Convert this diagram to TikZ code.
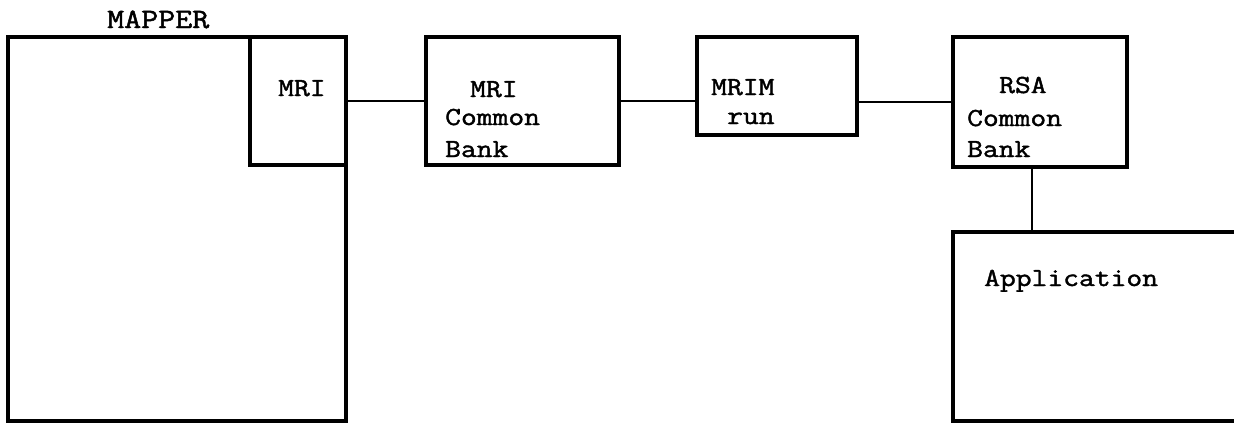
\documentclass[tikz,border=0pt]{standalone}
\usepackage{fontspec}
\newfontfamily\typefont{Latin Modern Mono}[FakeBold=1.6, FakeStretch=1.18]
\begin{document}
\begin{tikzpicture}[x=1pt,y=-1pt,
  box/.style={draw=black, line width=3.2pt, inner sep=0pt, outer sep=0pt, rectangle},
  conn/.style={draw=black, line width=2.8pt},
  lbl/.style={inner sep=0pt, anchor=base west, font=\typefont\fontsize{26}{30}\selectfont}]
\path[use as bounding box] (0,0) rectangle (1234,423);
\clip (0,0) rectangle (1234,423);
% boxes
\node[box, minimum width=338pt, minimum height=384pt] (mapper) at (177,229) {};
\node[box, minimum width=96pt, minimum height=128pt] (mri) at (298,101) {};
\node[box, minimum width=193pt, minimum height=128pt] (mricb) at (522.5,101) {};
\node[box, minimum width=160pt, minimum height=98pt] (mrim) at (777,86) {};
\node[box, minimum width=174pt, minimum height=130pt] (rsacb) at (1040,102) {};
\node[box, minimum width=320pt, minimum height=189pt] (app) at (1113,326.5) {};
% labels
\node[lbl, font=\typefont\fontsize{28}{34}\selectfont] (tmapper) at (107,28) {MAPPER};
\node[lbl] (tmri) at (278,96) {MRI};
\node[lbl] (tmricb1) at (470,97) {MRI};
\node[lbl] (tmricb2) at (445,125) {Common};
\node[lbl] (tmricb3) at (445,157) {Bank};
\node[lbl] (tmrim1) at (711,95) {MRIM};
\node[lbl] (tmrim2) at (727,124) {run};
\node[lbl] (trsa1) at (999,93) {RSA};
\node[lbl] (trsa2) at (967,126) {Common};
\node[lbl] (trsa3) at (967,157) {Bank};
\node[lbl] (tapp) at (984,286) {Application};
% connectors
\draw[conn] (mri.east) -- (mricb.west);
\draw[conn] (mricb.east) -- (mricb.east -| mrim.west);
\draw[conn] (rsacb.west -| mrim.east) -- (rsacb.west);
\draw[conn] ([xshift=-8pt]rsacb.south) -- ([xshift=-8pt]rsacb.south |- app.north);
\end{tikzpicture}
\end{document}
